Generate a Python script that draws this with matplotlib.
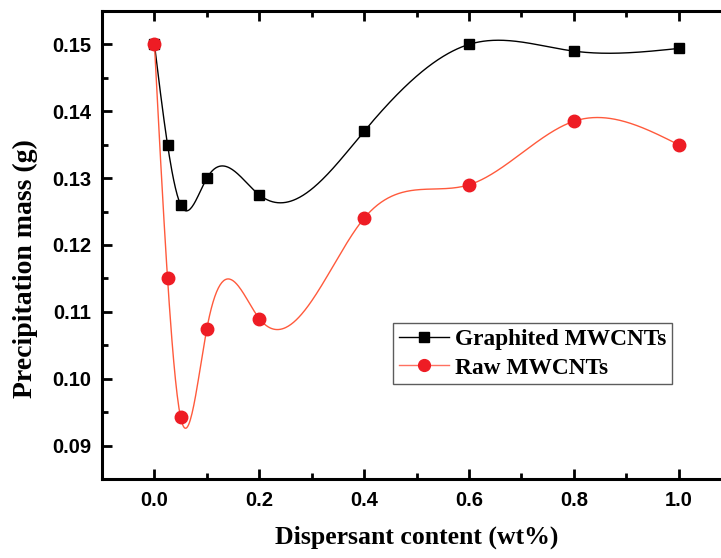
import numpy as np
import matplotlib
matplotlib.use("Agg")
import matplotlib.pyplot as plt
from matplotlib.ticker import MultipleLocator

# data
content = [0.0, 0.025, 0.05, 0.1, 0.2, 0.4, 0.6, 0.8, 1.0]
graphited = [0.150, 0.135, 0.126, 0.130, 0.1275, 0.137, 0.150, 0.149, 0.1494]
raw = [0.150, 0.115, 0.0942, 0.1075, 0.109, 0.124, 0.129, 0.1385, 0.135]


def natural_spline(x, y, n=600):
    # plain natural cubic spline, like Origin's "Spline" connect line
    x = np.asarray(x, float)
    y = np.asarray(y, float)
    k = len(x)
    h = np.diff(x)
    A = np.zeros((k, k))
    b = np.zeros(k)
    A[0, 0] = 1
    A[-1, -1] = 1
    for i in range(1, k - 1):
        A[i, i - 1] = h[i - 1]
        A[i, i] = 2 * (h[i - 1] + h[i])
        A[i, i + 1] = h[i]
        b[i] = 6 * ((y[i + 1] - y[i]) / h[i] - (y[i] - y[i - 1]) / h[i - 1])
    M = np.linalg.solve(A, b)
    xs = np.linspace(x[0], x[-1], n)
    idx = np.clip(np.searchsorted(x, xs) - 1, 0, k - 2)
    x0, x1 = x[idx], x[idx + 1]
    hh = x1 - x0
    t0 = x1 - xs
    t1 = xs - x0
    ys = (M[idx] * t0 ** 3 / (6 * hh) + M[idx + 1] * t1 ** 3 / (6 * hh)
          + (y[idx] / hh - M[idx] * hh / 6) * t0
          + (y[idx + 1] / hh - M[idx + 1] * hh / 6) * t1)
    return xs, ys


fig = plt.figure(figsize=(7.21, 5.58), dpi=100)
ax = fig.add_axes([0.1415, 0.1416, 0.8724, 0.8387])

red_line = "#ff5a3c"
red_mark = "#ee1c24"

xs, ys = natural_spline(content, graphited)
ax.plot(xs, ys, color="black", lw=1.0, zorder=2)
ax.plot(content, graphited, "s", color="black", ms=7.5, zorder=3)

xs, ys = natural_spline(content, raw)
ax.plot(xs, ys, color=red_line, lw=1.0, zorder=2)
ax.plot(content, raw, "o", color=red_mark, ms=9, zorder=3)

# legend handles (line + marker)
h1, = ax.plot([], [], "-s", color="black", lw=1.0, ms=7, label="Graphited MWCNTs")
h2, = ax.plot([], [], "-o", color="#ff7060", mfc=red_mark, mec=red_mark, lw=1.0, ms=8.5,
              label="Raw MWCNTs")
leg = ax.legend(handles=[h1, h2], loc="upper left", bbox_to_anchor=(0.463, 0.333),
                borderaxespad=0, fancybox=False, frameon=True, handlelength=2.15,
                handletextpad=0.25, borderpad=0.25, labelspacing=0.3,
                prop={"family": "Liberation Serif", "weight": "bold", "size": 16.8})
leg.get_frame().set_edgecolor("#333333")
leg.get_frame().set_linewidth(1.0)

ax.set_xlim(-0.1, 1.1)
ax.set_ylim(0.085, 0.155)
ax.xaxis.set_minor_locator(MultipleLocator(0.1))
ax.yaxis.set_minor_locator(MultipleLocator(0.005))
ax.set_xticks([0.0, 0.2, 0.4, 0.6, 0.8, 1.0])
ax.set_xticklabels(["0.0", "0.2", "0.4", "0.6", "0.8", "1.0"])
ax.set_yticks([0.09, 0.10, 0.11, 0.12, 0.13, 0.14, 0.15])
ax.set_yticklabels(["0.09", "0.10", "0.11", "0.12", "0.13", "0.14", "0.15"])

ax.tick_params(which="both", direction="in", top=True, right=True, width=2.0)
ax.tick_params(which="major", length=7)
ax.tick_params(which="minor", length=4)
ax.tick_params(axis="y", which="major", pad=8)
ax.tick_params(axis="x", which="major", pad=9)
for lab in ax.get_xticklabels() + ax.get_yticklabels():
    lab.set_fontfamily("Liberation Sans")
    lab.set_fontweight("bold")
    lab.set_fontsize(14.5)

for sp in ax.spines.values():
    sp.set_linewidth(2.2)

ax.set_xlabel("Dispersant content (wt%)", family="Liberation Serif", weight="bold",
              fontsize=18.5)
ax.set_ylabel("Precipitation mass (g)", family="Liberation Serif", weight="bold",
              fontsize=20)
ax.xaxis.set_label_coords(0.5, -0.1)
ax.yaxis.set_label_coords(-0.101, 0.449)

fig.savefig("out.png", dpi=100)
